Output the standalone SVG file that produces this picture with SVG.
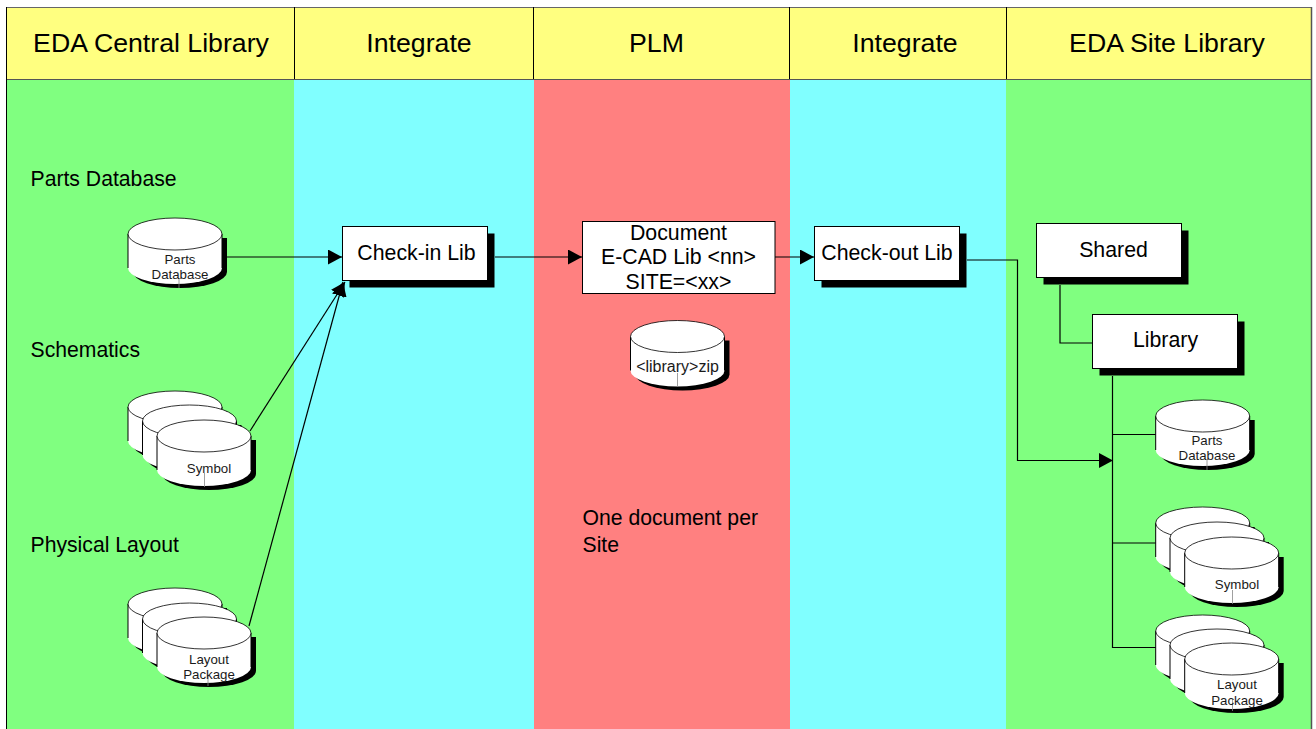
<svg xmlns="http://www.w3.org/2000/svg" width="1316" height="729" viewBox="0 0 1316 729">
<style>
text{font-family:"Liberation Sans",Arial,sans-serif;fill:#000}
.h{font-size:26.700px;text-anchor:middle}
.b{font-size:21.300px;text-anchor:middle}
.l{font-size:21.200px}
.s{font-size:13.300px;text-anchor:middle;fill:#1a1a1a}
.box{fill:#fff;stroke:#000;stroke-width:1}
.line{fill:none;stroke:#000;stroke-width:1.2}
.div{stroke:#000;stroke-width:1;fill:none}
</style>
<defs>
<marker id="arrow" markerUnits="userSpaceOnUse" markerWidth="14" markerHeight="15" refX="14" refY="7.5" orient="auto"><path d="M0 0L14 7.5L0 15Z" fill="#000"/></marker>
<g id="cyl">
<path d="M5 20V54A47 16 0 0 0 99 54V20Z" fill="#000"/>
<path d="M0 16V50A47 16 0 0 0 94 50V16Z" fill="#fff"/>
<path d="M0 50V16M94 16V50" fill="none" stroke="#000" stroke-width="1"/>
<ellipse cx="47" cy="16" rx="47" ry="16" fill="#fff" stroke="#000" stroke-width="0.8"/>
</g>
</defs>
<rect x="0" y="0" width="1316" height="729" fill="#fff"/>
<g id="lanes">
<rect x="7" y="79" width="287" height="650" fill="#80ff80"/>
<rect x="294" y="79" width="240" height="650" fill="#80ffff"/>
<rect x="534" y="79" width="256" height="650" fill="#ff8080"/>
<rect x="790" y="79" width="216" height="650" fill="#80ffff"/>
<rect x="1006" y="79" width="305" height="650" fill="#80ff80"/>
<rect x="7" y="7" width="1304" height="72" fill="#ffff80"/>
<path d="M7 7.500H1311" stroke="#666" stroke-width="1" fill="none"/>
<path class="div" d="M6.500 729V7M294.500 7V79M533.500 7V79M789.500 7V79M1006.500 7V79"/>
<path d="M7 79.500H1311" stroke="#555" stroke-width="1.200" fill="none"/>
<path d="M1311.500 7V729" stroke="#555" stroke-width="1.500" fill="none"/>
<text class="h" x="151" y="52">EDA Central Library</text>
<text class="h" x="419" y="52">Integrate</text>
<text class="h" x="656.500" y="52">PLM</text>
<text class="h" x="905" y="52">Integrate</text>
<text class="h" x="1167" y="52">EDA Site Library</text>
<text class="l" x="30.500" y="186">Parts Database</text>
<text class="l" x="30.500" y="357">Schematics</text>
<text class="l" x="30.500" y="552">Physical Layout</text>
<text class="l" x="582.500" y="525">One document per</text>
<text class="l" x="582.500" y="552">Site</text>
</g>
<g id="connectors">
<path class="line" d="M227 257H342" marker-end="url(#arrow)"/>
<path class="line" d="M250 431L345 282" marker-end="url(#arrow)"/>
<path class="line" d="M249 626L343 282" marker-end="url(#arrow)"/>
<path class="line" d="M495 257H582" marker-end="url(#arrow)"/>
<path class="line" d="M775 257H814" marker-end="url(#arrow)"/>
<path class="line" d="M967 260H1017.500V460.500H1113" marker-end="url(#arrow)"/>
<path class="line" d="M1060 285V343H1092"/>
<path class="line" d="M1112.500 376V647.500H1156M1112.500 434.500H1156M1112.500 543H1156"/>
</g>
<g id="parts-db"><use href="#cyl" x="128" y="218"/><path d="M179 278V288" stroke="#888" stroke-width="0.8"/><text class="s" x="180" y="264">Parts</text><text class="s" x="180" y="279">Database</text></g>
<g id="symbol-stack"><use href="#cyl" x="128" y="391"/><use href="#cyl" x="142.500" y="405"/><use href="#cyl" x="157" y="420"/><path d="M204.500 473V487" stroke="#888" stroke-width="0.8"/><text class="s" x="209" y="473">Symbol</text></g>
<g id="layout-stack"><use href="#cyl" x="128" y="588"/><use href="#cyl" x="142.500" y="603"/><use href="#cyl" x="157" y="617"/><path d="M208 675V686" stroke="#888" stroke-width="0.8"/><text class="s" x="209" y="664">Layout</text><text class="s" x="209" y="679">Package</text></g>
<g id="check-in"><rect x="349.500" y="233.500" width="145" height="54" fill="#000"/><rect class="box" x="342.500" y="226.500" width="145" height="54"/><text class="b" x="416.500" y="260">Check-in Lib</text></g>
<g id="document"><rect class="box" x="582.500" y="221.500" width="192.500" height="72"/><text class="b" x="678.500" y="240">Document</text><text class="b" x="678.500" y="264">E-CAD Lib &lt;nn&gt;</text><text class="b" x="678.500" y="289">SITE=&lt;xx&gt;</text></g>
<g id="library-zip"><use href="#cyl" x="630.500" y="320.500"/><path d="M677.500 373V387" stroke="#888" stroke-width="0.8"/><text class="s" style="font-size:16px" x="677.500" y="372">&lt;library&gt;zip</text></g>
<g id="check-out"><rect x="821.500" y="233.500" width="145" height="54" fill="#000"/><rect class="box" x="814.500" y="226.500" width="145" height="54"/><text class="b" x="887" y="260">Check-out Lib</text></g>
<g id="shared"><rect x="1043.500" y="230.500" width="145" height="54" fill="#000"/><rect class="box" x="1036.500" y="223.500" width="145" height="54"/><text class="b" x="1113.500" y="257">Shared</text></g>
<g id="library"><rect x="1099.500" y="321.500" width="145" height="54" fill="#000"/><rect class="box" x="1092.500" y="314.500" width="145" height="54"/><text class="b" x="1165.500" y="347">Library</text></g>
<g id="site-parts-db"><use href="#cyl" x="1155.700" y="400"/><path d="M1207 460V470" stroke="#888" stroke-width="0.8"/><text class="s" x="1207" y="445">Parts</text><text class="s" x="1207" y="460">Database</text></g>
<g id="site-symbol-stack"><use href="#cyl" x="1155.700" y="507"/><use href="#cyl" x="1170" y="522"/><use href="#cyl" x="1184.700" y="537"/><path d="M1232.500 590V604" stroke="#888" stroke-width="0.8"/><text class="s" x="1237" y="589">Symbol</text></g>
<g id="site-layout-stack"><use href="#cyl" x="1155.700" y="615"/><use href="#cyl" x="1170" y="629"/><use href="#cyl" x="1184.700" y="643"/><path d="M1232.500 700V711" stroke="#888" stroke-width="0.8"/><text class="s" x="1237" y="689">Layout</text><text class="s" x="1237" y="705">Package</text></g>
</svg>
